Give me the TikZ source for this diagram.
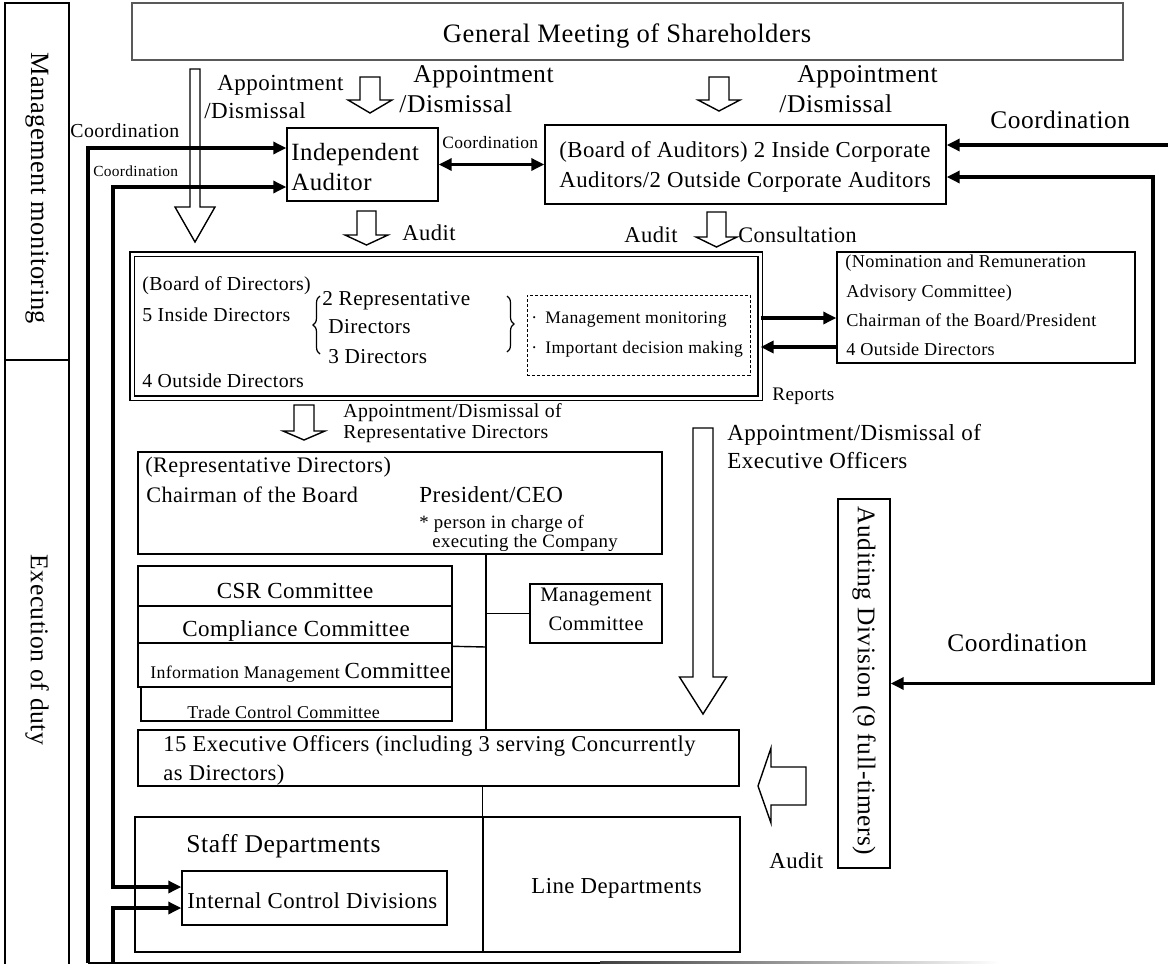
\documentclass[tikz,border=0pt]{standalone}
\usepackage{fontspec}
\setmainfont{Liberation Serif}[LetterSpace=2]
\usepackage{tikz}
\usetikzlibrary{arrows.meta,positioning,fit,decorations.pathreplacing}

\newcommand{\fsz}[1]{\fontsize{#1}{#1}\selectfont}
% hollow block arrow pointing down: x, top, tip, shaft half width, head half width, head length
\newcommand{\blockdown}[6]{%
  \draw[hollow] (#1-#4,#2) -- (#1+#4,#2) -- (#1+#4,#3-#6) -- (#1+#5,#3-#6)
    -- (#1,#3) -- (#1-#5,#3-#6) -- (#1-#4,#3-#6) -- cycle;}

\begin{document}
\begin{tikzpicture}[
    x=0.5pt, y=-0.5pt,
    box/.style={draw, line width=0.7pt, inner sep=0pt},
    dbox/.style={draw, double, double distance=1.5pt, line width=0.6pt, inner sep=0pt},
    dashbox/.style={draw, dash pattern=on 1.5pt off 1pt, line width=0.5pt, inner sep=0pt},
    txt/.style={inner sep=0pt, anchor=base west},
    ctxt/.style={inner sep=0pt, anchor=base},
    link/.style={line width=0.7pt},
    hollow/.style={draw, line width=0.7pt, fill=white},
    arrow/.style={line width=1.6pt, ->, >={Triangle[length=6.5pt,width=6pt]}}
]
    \useasboundingbox (0,0) rectangle (1168,964);

    % left column
    \node[box, fit={(5,3) (69,360)}] (mon) {};
    \node[box, fit={(5,360) (69,980)}] (exe) {};
    \node[rotate=-90, font=\fsz{13.2}] (montxt) at (37,188) {Management monitoring};
    \node[rotate=-90, font=\fsz{12.8}] (exetxt) at (37,650) {Execution of duty};

    % shareholders
    \node[box, draw=black!65, fit={(132,3) (1123,60)}] (gm) {};
    \node[ctxt, font=\fsz{13.3}] (gmtxt) at (627,42) {General Meeting of Shareholders};

    \blockdown{195}{69}{242}{5}{20}{35}
    \blockdown{370}{77}{113}{10}{22}{13}
    \blockdown{719}{77}{111}{10}{21}{11}
    \node[txt, font=\fsz{11.5}] (app1a) at (217,90) {Appointment};
    \node[txt, font=\fsz{11.5}] (app1b) at (204,118) {/Dismissal};
    \node[txt, font=\fsz{12.8}] (app2a) at (413,82) {Appointment};
    \node[txt, font=\fsz{12.8}] (app2b) at (399,112) {/Dismissal};
    \node[txt, font=\fsz{12.8}] (app3a) at (797,82) {Appointment};
    \node[txt, font=\fsz{12.8}] (app3b) at (779,112) {/Dismissal};

    % auditors
    \node[box, fit={(287,128) (438,201)}] (ia) {};
    \node[txt, font=\fsz{12.4}] (iat1) at (291,160) {Independent};
    \node[txt, font=\fsz{12.4}] (iat2) at (291,190) {Auditor};
    \node[box, fit={(545,125) (946,204)}] (boa) {};
    \node[txt, font=\fsz{11.4}] (boat1) at (559,157) {(Board of Auditors) 2 Inside Corporate};
    \node[txt, font=\fsz{11.4}] (boat2) at (559,187) {Auditors/2 Outside Corporate Auditors};
    \draw[arrow, <->] (ia.east) -- (boa.west);
    \node[txt, font=\fsz{8.7}] (coordm) at (442,148) {Coordination};

    \blockdown{366.5}{211}{245}{9.5}{21.5}{10}
    \blockdown{716.5}{212}{247}{9.5}{20.5}{10}
    \node[txt, font=\fsz{11.3}] (audit1) at (402,240) {Audit};
    \node[txt, font=\fsz{11.3}] (audit2) at (624,242) {Audit};
    \node[txt, font=\fsz{11.1}] (consult) at (738,242) {Consultation};

    % board of directors
    \node[dbox, fit={(132,254) (760,398)}] (bod) {};
    \node[txt, font=\fsz{9.9}] (bodt1) at (142,290) {(Board of Directors)};
    \node[txt, font=\fsz{9.9}] (bodt2) at (142,321) {5 Inside Directors};
    \node[txt, font=\fsz{9.9}] (bodt3) at (142,387) {4 Outside Directors};
    \node[txt, font=\fsz{10.6}] (rep1) at (322,305) {2 Representative};
    \node[txt, font=\fsz{10.6}] (rep2) at (328,333) {Directors};
    \node[txt, font=\fsz{10.6}] (rep3) at (328,363) {3 Directors};
    \draw[decorate, decoration={brace, amplitude=3.5pt}, line width=0.6pt] (320,354) -- (320,296);
    \draw[decorate, decoration={brace, amplitude=3.5pt}, line width=0.6pt] (507,296) -- (507,352);
    \node[dashbox, fit={(527,295) (750,375)}] (role) {};
    \node[txt, font=\fsz{8.8}] (role1) at (531,323) {\makebox[7pt][l]{·}Management monitoring};
    \node[txt, font=\fsz{8.8}] (role2) at (531,353) {\makebox[7pt][l]{·}Important decision making};

    % nomination committee
    \node[box, fit={(837,252) (1135,363)}] (nom) {};
    \node[txt, font=\fsz{9.1}] (nomt1) at (845,267) {(Nomination and Remuneration};
    \node[txt, font=\fsz{9.1}] (nomt2) at (846,297) {Advisory Committee)};
    \node[txt, font=\fsz{9.1}] (nomt3) at (846,326) {Chairman of the Board/President};
    \node[txt, font=\fsz{9.1}] (nomt4) at (846,355) {4 Outside Directors};
    \coordinate (b1) at ([shift={(0,-8)}]bod.east);
    \coordinate (b2) at ([shift={(0,21)}]bod.east);
    \draw[arrow] (b1) -- (b1 -| nom.west);
    \draw[arrow] (b2 -| nom.west) -- (b2);
    \node[txt, font=\fsz{9.6}] (reports) at (772,400) {Reports};

    % representative directors
    \blockdown{304}{405}{440}{10}{21}{9}
    \node[txt, font=\fsz{9.9}] (app4a) at (343,417) {Appointment/Dismissal of};
    \node[txt, font=\fsz{9.9}] (app4b) at (343,438) {Representative Directors};
    \node[box, fit={(138,452) (662,554)}] (rep) {};
    \node[txt, font=\fsz{11.1}] (rept1) at (145,472) {(Representative Directors)};
    \node[txt, font=\fsz{11.1}] (rept2) at (146,502) {Chairman of the Board};
    \node[txt, font=\fsz{11.5}] (rept3) at (419,502) {President/CEO};
    \node[txt, font=\fsz{9.4}] (rept4) at (419,528) {* person in charge of};
    \node[txt, font=\fsz{9.4}] (rept5) at (432,547) {executing the Company};

    % committees
    \node[box, fit={(138,566) (452,606)}] (csr) {};
    \node[box, fit={(138,606) (452,643)}] (cmp) {};
    \node[box, fit={(138,643) (452,687)}] (info) {};
    \node[box, fit={(141,687) (452,721)}] (trade) {};
    \node[ctxt, font=\fsz{11.5}] (csrt) at (295,598) {CSR Committee};
    \node[ctxt, font=\fsz{11.5}] (cmpt) at (296,636) {Compliance Committee};
    \node[txt, font=\fsz{8.9}] (infot) at (150,678) {Information Management {\fsz{11.5}Committee}};
    \node[txt, font=\fsz{9}] (tradet) at (187,718) {Trade Control Committee};
    \node[box, fit={(530,584) (662,643)}] (mgmt) {};
    \node[ctxt, font=\fsz{10.3}] (mgmtt1) at (596,601) {Management};
    \node[ctxt, font=\fsz{10.3}] (mgmtt2) at (596,630) {Committee};

    % executive officers
    \node[box, fit={(138,730) (739,786)}] (exec) {};
    \node[txt, font=\fsz{11.3}] (exect1) at (163,751) {15 Executive Officers (including 3 serving Concurrently};
    \node[txt, font=\fsz{11.3}] (exect2) at (163,780) {as Directors)};
    \coordinate (trunk) at (486,0);
    \draw[link] (trunk |- rep.south) -- (trunk |- exec.north);
    \draw[link] (trunk |- mgmt.west) -- (mgmt.west);
    \draw[link] ([shift={(0,4)}]info.north east) -- (trunk |- 0,647);

    \blockdown{703}{428}{714}{10}{23.5}{37}
    \node[txt, font=\fsz{11.5}] (app5a) at (727,440) {Appointment/Dismissal of};
    \node[txt, font=\fsz{11.5}] (app5b) at (727,468) {Executive Officers};

    % departments
    \node[box, fit={(135,817) (483,952)}] (staff) {};
    \node[txt, font=\fsz{12.8}] (stafft) at (186,852) {Staff Departments};
    \node[box, fit={(182,871) (447,925)}] (icd) {};
    \node[txt, font=\fsz{11.4}] (icdt) at (187,908) {Internal Control Divisions};
    \node[box, fit={(483,817) (740,952)}] (line) {};
    \node[txt, font=\fsz{11.4}] (linet) at (531,893) {Line Departments};
    \draw[link] (exec.south -| line.north west) -- (line.north west);

    % auditing division
    \node[box, fit={(838,499) (890,868)}] (aud) {};
    \node[rotate=-90, font=\fsz{12.7}] (audt) at (864,681) {Auditing Division (9 full-timers)};
    \draw[hollow] (806,767) -- (771,767) -- (771,748) -- (758,786) -- (771,823)
        -- (771,805) -- (806,805) -- cycle;
    \node[txt, font=\fsz{11.4}] (audit3) at (769,868) {Audit};

    % coordination lines
    \coordinate (lb1) at (88,963);
    \coordinate (lb2) at (113,887);
    \coordinate (lb3) at (113,963);
    \draw[arrow] (lb1) |- ([shift={(0,-16.5)}]ia.west);
    \draw[arrow, <->] ([shift={(0,22.5)}]ia.west) -| (lb2) -- ([shift={(0,-11)}]icd.west);
    \draw[arrow] (lb3) |- ([shift={(0,10)}]icd.west);
    \draw[line width=1.2pt] (lb1) -- (600,963);
    \shade[left color=black!75, right color=white] (600,961.8) rectangle (1000,964.2);
    \node[txt, font=\fsz{9.9}] (coordl1) at (70,137) {Coordination};
    \node[txt, font=\fsz{7.7}] (coordl2) at (93,176) {Coordination};

    \coordinate (rc1) at (1168,145);
    \coordinate (rc2) at (1153,683.5);
    \draw[arrow] (rc1) -- ([shift={(0,-19.5)}]boa.east);
    \draw[arrow, <->] ([shift={(0,12.5)}]boa.east) -| (rc2) -- (aud.east);
    \node[txt, font=\fsz{12.7}] (coordr1) at (990,128) {Coordination};
    \node[txt, font=\fsz{12.7}] (coordr2) at (947,651) {Coordination};
\end{tikzpicture}
\end{document}
